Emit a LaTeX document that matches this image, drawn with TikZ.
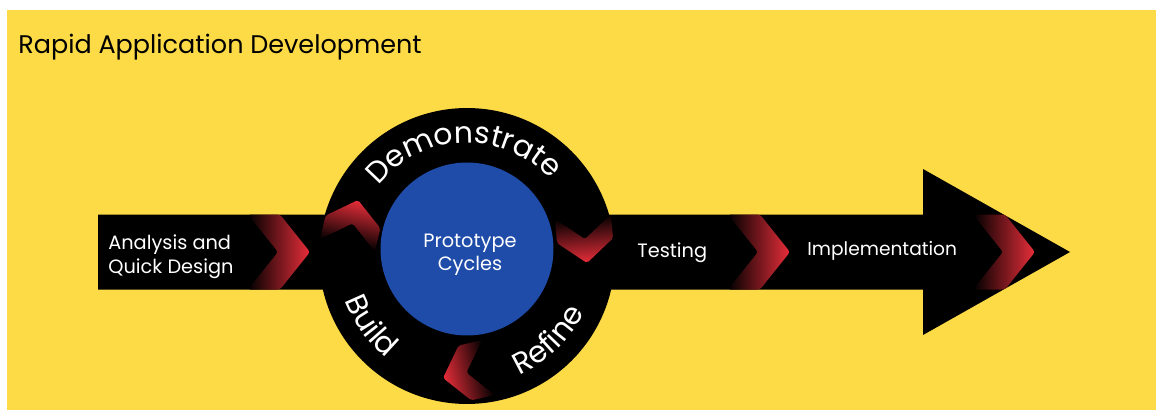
\documentclass[tikz,border=0pt]{standalone}
\usepackage{fontspec}
\setmainfont{Poppins}
\usepackage{tikz}
\usetikzlibrary{positioning}
\usetikzlibrary{decorations.text}
\definecolor{bgyellow}{RGB}{253,219,70}
\definecolor{protoblue}{RGB}{30,76,168}
\definecolor{chevred}{RGB}{232,46,58}
\tikzset{
  bandtext/.style = {text=white, inner sep=0pt, align=left,
    font=\fontsize{11}{13.6}\selectfont},
  ringtext/.style = {decorate, decoration={text along path,
    text align=center, text={|\color{white}\fontsize{17}{17}\selectfont|#1}}}
}
% chevron with its tip at (#1,#2), turned by #3, scaled by #4
\newcommand\redchev[4]{%
  \begin{scope}[transform canvas={shift={(#1,#2)},rotate=#3,scale=#4}]
    \shade[left color=black, right color=chevred, rounded corners=1.5pt]
      (0,0) -- (-30,37.5) -- (-62,37.5) -- (-32,0) -- (-62,-37.5) -- (-30,-37.5) -- cycle;
  \end{scope}}

\begin{document}
\begin{tikzpicture}[x=0.02cm,y=0.02cm]
\useasboundingbox (0,0) rectangle (1156,410);
\fill[white] (0,0) rectangle (1156,410);
\fill[bgyellow] (7,0) rectangle (1156,400);

\node[anchor=base west, inner sep=0pt, font=\fontsize{14.5}{18}\selectfont]
  (title) at (18,357) {Rapid Application Development};

% the long arrow
\fill[black] (98,120.5) -- (923,120.5) -- (923,75) -- (1070,158) -- (923,241)
  -- (923,195.5) -- (98,195.5) -- cycle;
\redchev{310}{158}{0}{1}
\redchev{790}{158}{0}{1}
\redchev{1035}{158}{0}{1}

% prototype ring
\node[circle, fill=black, inner sep=0pt, minimum size=5.92cm] (ring) at (467,154) {};
\node[circle, fill=protoblue, inner sep=0pt, minimum size=3.46cm] (proto) at (467,161) {};
\node[text=white, align=center, font=\fontsize{11}{13}\selectfont]
  (cycles) at (470,155) {Prototype\\Cycles};
\redchev{358}{210}{77}{0.75}
\redchev{587}{147}{-85}{0.75}
\redchev{443}{32}{193}{0.75}

\path[ringtext=Demonstrate] (ring.center) ++(150:113) arc[start angle=150, end angle=34, radius=113];
\path[ringtext=Build] (ring.center) ++(190:130) arc[start angle=190, end angle=242, radius=130];
\path[ringtext=Refine] (ring.center) ++(285:130) arc[start angle=285, end angle=343, radius=130];

\node[bandtext, anchor=west] (analysis) at (108,153) {Analysis and\\Quick Design};
\node[bandtext, anchor=west] (testing) at (637,157) {Testing};
\node[bandtext, anchor=west, font=\fontsize{10.6}{13}\selectfont] (impl) at (807,159) {Implementation};
\end{tikzpicture}
\end{document}
